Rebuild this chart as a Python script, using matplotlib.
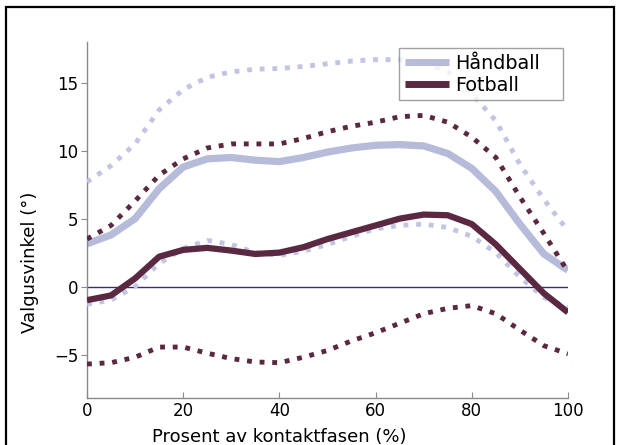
import matplotlib
matplotlib.use('Agg')
import matplotlib.pyplot as plt
from matplotlib.patches import Rectangle

# percent of contact phase
x = [0, 5, 10, 15, 20, 25, 30, 35, 40, 45, 50, 55, 60, 65, 70, 75, 80, 85, 90, 95, 100]

hand_mean = [3.15, 3.8, 5.0, 7.2, 8.8, 9.4, 9.5, 9.3, 9.2, 9.5, 9.9, 10.2, 10.4, 10.45, 10.35, 9.8, 8.7, 7.0, 4.6, 2.4, 1.2]
hand_upper = [7.7, 8.9, 10.5, 13.0, 14.5, 15.4, 15.8, 16.0, 16.05, 16.2, 16.4, 16.6, 16.7, 16.7, 16.5, 15.8, 14.2, 12.2, 9.0, 6.4, 4.1]
hand_lower = [-1.3, -1.0, 0.0, 1.7, 2.8, 3.4, 3.1, 2.5, 2.3, 2.6, 3.1, 3.7, 4.25, 4.5, 4.6, 4.35, 3.7, 2.5, 0.7, -0.8, -1.5]

foot_mean = [-1.0, -0.65, 0.6, 2.2, 2.7, 2.85, 2.65, 2.4, 2.5, 2.9, 3.5, 4.0, 4.5, 5.0, 5.3, 5.25, 4.6, 3.1, 1.3, -0.5, -1.9]
foot_upper = [3.5, 4.5, 6.3, 8.2, 9.4, 10.2, 10.5, 10.5, 10.5, 10.9, 11.4, 11.8, 12.1, 12.5, 12.6, 12.1, 11.0, 9.5, 6.6, 3.9, 1.1]
foot_lower = [-5.7, -5.6, -5.2, -4.45, -4.45, -4.9, -5.3, -5.55, -5.6, -5.2, -4.7, -4.0, -3.4, -2.7, -2.0, -1.6, -1.4, -2.0, -3.2, -4.35, -4.95]

labels = ["Håndball", "Fotball"]
xticks = [0, 20, 40, 60, 80, 100]
yticks = [-5, 0, 5, 10, 15]

c_hand = '#b7bbda'
c_hand_dash = '#c2c5e1'
c_foot = '#5b2841'

fig = plt.figure(figsize=(6.2, 4.45), dpi=100)
ax = fig.add_axes([0.1403, 0.1056, 0.7758, 0.80])

dash = (0, (1.0, 1.6))
ax.plot([0, 100], [0, 0], color='#3b2f6b', lw=1.0, zorder=1)
ax.plot(x, hand_mean, color=c_hand, lw=5.2, solid_capstyle='butt', solid_joinstyle='round',
        label=labels[0], zorder=2)
ax.plot(x, hand_upper, color=c_hand_dash, lw=3.5, ls=dash, dash_capstyle='butt', zorder=3)
ax.plot(x, hand_lower, color=c_hand_dash, lw=3.5, ls=dash, dash_capstyle='butt', zorder=3)
ax.plot(x, foot_mean, color=c_foot, lw=4.5, solid_capstyle='butt', solid_joinstyle='round',
        label=labels[1], zorder=4)
ax.plot(x, foot_upper, color=c_foot, lw=3.5, ls=dash, dash_capstyle='butt', zorder=5)
ax.plot(x, foot_lower, color=c_foot, lw=3.5, ls=dash, dash_capstyle='butt', zorder=5)

ax.set_xlim(0, 100)
ax.set_ylim(-8.2, 18)
ax.set_xticks(xticks)
ax.set_yticks(yticks)
ax.set_yticklabels(['\u22125', '0', '5', '10', '15'])
ax.spines['top'].set_visible(False)
ax.spines['right'].set_visible(False)
for s in ['left', 'bottom']:
    ax.spines[s].set_color('#8a8a8a')
    ax.spines[s].set_linewidth(1.0)
ax.tick_params(axis='x', direction='in', length=4, color='#8a8a8a', labelsize=12, pad=3)
ax.tick_params(axis='y', direction='out', length=4, color='#8a8a8a', labelsize=12, pad=2)

ax.set_xlabel("Prosent av kontaktfasen (%)", fontsize=13)
ax.set_ylabel("Valgusvinkel (°)", fontsize=13)
ax.xaxis.set_label_coords(0.40, -0.085)
ax.yaxis.set_label_coords(-0.10, 0.38)

leg = ax.legend(loc='upper left', bbox_to_anchor=(0.649, 0.843, 0.34, 0.14), mode='expand',
                borderaxespad=0, fontsize=13.8, frameon=True, fancybox=False,
                handlelength=2.3, handletextpad=0.3, borderpad=0.3, labelspacing=0.15)
leg.get_frame().set_edgecolor('#8a8a8a')
leg.get_frame().set_linewidth(1.0)
for line in leg.get_lines():
    line.set_linewidth(5)

# outer frame
fig.patches.append(Rectangle((0.009, -0.05), 0.982, 1.034, transform=fig.transFigure,
                             fill=False, edgecolor='black', lw=1.6))

fig.savefig('out.png', dpi=100)
